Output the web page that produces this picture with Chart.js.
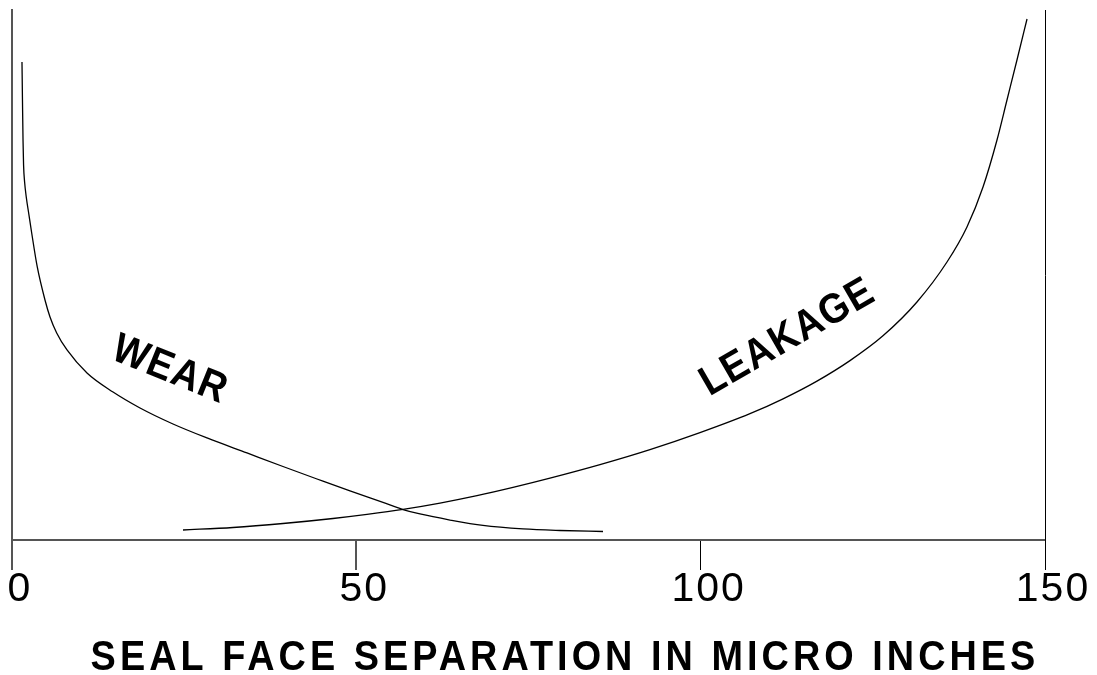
<!DOCTYPE html>
<html><head><meta charset="utf-8">
<script src="https://cdn.jsdelivr.net/npm/chart.js@4.4.1/dist/chart.umd.min.js"></script>
<style>html,body{margin:0;padding:0;background:#fff;} #wrap{width:1097px;height:675px;position:relative;}</style>
</head><body><div id="wrap"><canvas id="c"></canvas></div>
<script>
// ---- data ----
const xTicks = [0, 50, 100, 150];
const wearX = [1.45, 1.52, 1.60, 1.68, 1.83, 2.09, 2.44, 2.86, 3.67, 4.79, 5.52, 6.49, 7.99, 10.89, 14.67, 18.59, 23.38, 28.32, 34.12, 39.35, 44.29, 49.08, 53.87, 56.78, 59.24, 63.60, 68.39, 74.20, 79.57, 85.82];
const wearY = [90.19, 83.02, 75.47, 70.75, 67.55, 64.53, 61.51, 57.92, 51.51, 45.28, 42.08, 39.06, 35.85, 31.51, 27.92, 24.91, 21.89, 19.25, 16.42, 13.87, 11.51, 9.25, 7.08, 5.75, 4.91, 3.77, 2.74, 2.08, 1.79, 1.60];
const leakX = [24.83, 32.09, 39.35, 46.61, 51.55, 56.78, 62.15, 67.52, 72.75, 78.12, 85.38, 92.64, 99.90, 107.16, 111.96, 116.89, 121.68, 126.47, 131.41, 135.77, 138.67, 141.00, 143.03, 144.48, 145.93, 147.39];
const leakY = [1.89, 2.36, 3.11, 4.06, 4.83, 5.77, 6.96, 8.36, 9.92, 11.66, 14.21, 17.04, 20.25, 23.83, 26.64, 29.98, 33.85, 38.53, 44.91, 52.45, 59.06, 66.60, 75.47, 83.02, 90.57, 98.30];
const seriesNames = ['WEAR', 'LEAKAGE'];
const axisTitle = 'SEAL FACE SEPARATION IN MICRO INCHES';

const toPts = (xs, ys) => xs.map((v, i) => ({x: v, y: ys[i]}));

const textPlugin = {
  id: 'texts',
  beforeDraw(chart) { chart.ctx.letterSpacing = '2px'; },
  afterDraw(chart, args, o) {
    const ctx = chart.ctx, xs = chart.scales.x, ys = chart.scales.y;
    ctx.save();
    ctx.fillStyle = '#000';
    ctx.font = o.font;
    ctx.textAlign = 'center';
    ctx.textBaseline = 'alphabetic';
    ctx.letterSpacing = o.labelSpacing + 'px';
    o.labels.forEach(l => {
      ctx.save();
      ctx.translate(xs.getPixelForValue(l.x), ys.getPixelForValue(l.y));
      ctx.rotate(l.angle * Math.PI / 180);
      ctx.scale(o.squeeze, 1);
      ctx.fillText(l.text, 0, 15);
      ctx.restore();
    });
    ctx.letterSpacing = o.titleSpacing + 'px';
    ctx.save();
    ctx.translate(o.titleX, o.titleY);
    ctx.scale(o.squeeze, 1);
    ctx.fillText(axisTitle, 0, 0);
    ctx.restore();
    ctx.restore();
    ctx.letterSpacing = '0px';
  }
};

new Chart(document.getElementById('c'), {
  type: 'line',
  data: {
    datasets: [
      {label: seriesNames[0], data: toPts(wearX, wearY), borderColor: '#000', borderWidth: 1.3, pointRadius: 0, cubicInterpolationMode: 'monotone', fill: false},
      {label: seriesNames[1], data: toPts(leakX, leakY), borderColor: '#000', borderWidth: 1.3, pointRadius: 0, cubicInterpolationMode: 'monotone', fill: false}
    ]
  },
  options: {
    responsive: true,
    maintainAspectRatio: false,
    animation: false,
    devicePixelRatio: 1,
    layout: {padding: {left: 12, right: 52, top: 10, bottom: 0}},
    plugins: {
      legend: {display: false},
      tooltip: {enabled: false},
      texts: {
        font: 'bold 42px "Liberation Sans", Arial, sans-serif',
        squeeze: 0.9,
        labelSpacing: 1.5,
        titleSpacing: 4.5,
        titleX: 565,
        titleY: 670,
        labels: [
          {text: seriesNames[0], x: 23.1, y: 32.6, angle: 22},
          {text: seriesNames[1], x: 112.4, y: 38.7, angle: -30}
        ]
      }
    },
    scales: {
      x: {
        type: 'linear', min: 0, max: 150,
        afterBuildTicks: s => { s.ticks = xTicks.map(v => ({value: v})); },
        afterFit: s => { s.height = 135; },
        border: {display: true, color: '#555', width: 2},
        grid: {
          display: true, drawOnChartArea: false, drawTicks: true, tickLength: 30,
          color: c => c.index < 2 ? '#555' : '#000',
          lineWidth: c => c.index < 2 ? 2 : 1
        },
        ticks: {color: '#000', font: {family: '"Liberation Sans", Arial, sans-serif', size: 41}, padding: -5, labelOffset: 8, maxRotation: 0, autoSkip: false}
      },
      y: {
        type: 'linear', min: 0, max: 100, position: 'left',
        border: {display: true, color: '#555', width: 2},
        grid: {display: false, drawTicks: false},
        ticks: {display: false}
      },
      y2: {
        type: 'linear', min: 0, max: 100, position: 'right',
        border: {display: true, color: '#000', width: 1},
        grid: {display: false, drawTicks: false},
        ticks: {display: false}
      }
    }
  },
  plugins: [textPlugin]
});
</script>
</body></html>
